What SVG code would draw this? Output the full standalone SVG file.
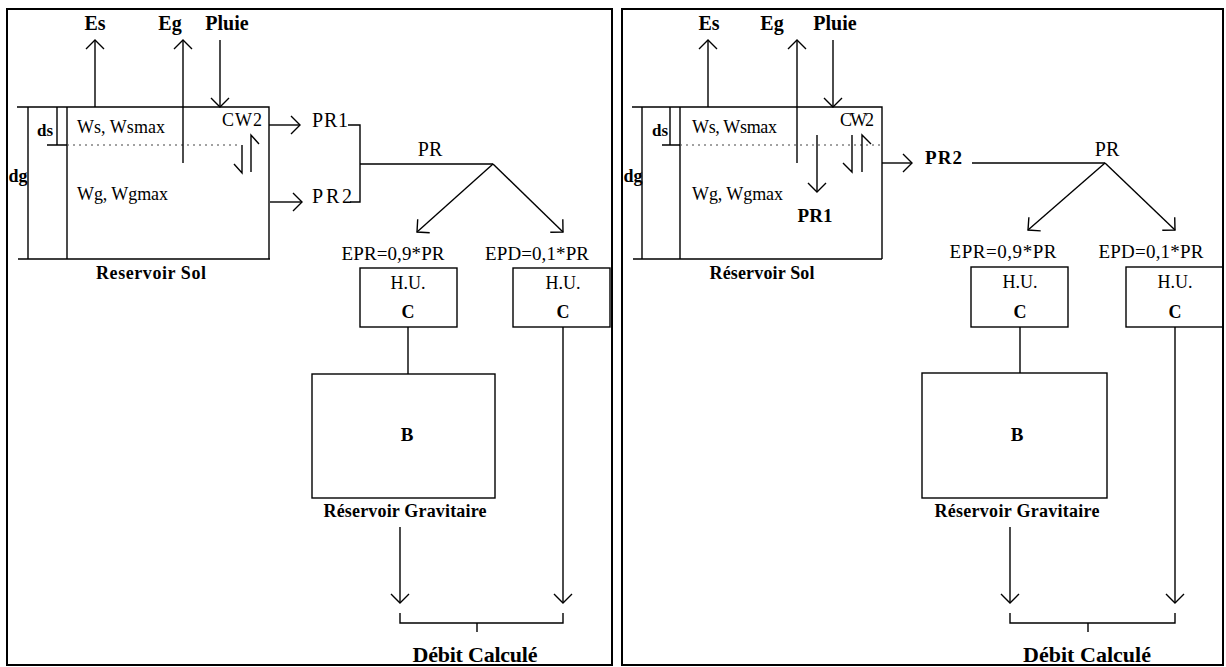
<svg xmlns="http://www.w3.org/2000/svg" width="1226" height="667" viewBox="0 0 1226 667">
<style>
text{font-family:"Liberation Serif","Times New Roman",serif;fill:#000}
.b{font-weight:bold}
.ln{stroke:#000;stroke-width:1.4;fill:none}
.fr{stroke:#000;stroke-width:2;fill:none}
.dot{stroke:#444;stroke-width:1;stroke-dasharray:2 4;fill:none}
.ar{marker-end:url(#ah)}
</style>
<defs>
<marker id="ah" markerWidth="20" markerHeight="20" refX="10" refY="10" orient="auto" markerUnits="userSpaceOnUse" viewBox="0 0 20 20">
<path d="M1,1 L10,10 L1,19" fill="none" stroke="#000" stroke-width="1.4"/>
</marker>
</defs>
<rect width="1226" height="667" fill="#fff"/>
<g id="frames">
<rect class="fr" x="7" y="9" width="605" height="656"/>
<rect class="fr" x="622" y="9" width="601" height="656"/>
</g>

<!-- LEFT PANEL -->
<g id="L-sol">
<path class="ln" d="M17,107 H269 V259 M18,259 H270 M28,107 V259 M67,107 V259 M57,107 V145 M47,145 H67"/>
<path class="dot" d="M67,145 H240"/>
<text class="b" x="45" y="136" font-size="17" text-anchor="middle">ds</text>
<text class="b" x="18" y="182" font-size="18" text-anchor="middle">dg</text>
<text x="77" y="133" font-size="18" textLength="88">Ws, Wsmax</text>
<text x="222" y="126" font-size="18" textLength="40">CW2</text>
<text x="77" y="200" font-size="18" textLength="91">Wg, Wgmax</text>
<text class="b" x="151" y="279" font-size="18" text-anchor="middle" textLength="110">Reservoir Sol</text>
</g>
<g id="L-inputs">
<text class="b" x="95" y="30" font-size="20" text-anchor="middle">Es</text>
<text class="b" x="170" y="30" font-size="20" text-anchor="middle">Eg</text>
<text class="b" x="227" y="30" font-size="20" text-anchor="middle">Pluie</text>
</g>
<g id="L-outputs">
<text x="312" y="127" font-size="20" textLength="36">PR1</text>
<text x="312" y="203" font-size="20" textLength="40">PR2</text>
<text x="430" y="156" font-size="20" text-anchor="middle">PR</text>
<text x="393" y="260" font-size="19" text-anchor="middle" textLength="103">EPR=0,9*PR</text>
<text x="537" y="260" font-size="19" text-anchor="middle" textLength="104">EPD=0,1*PR</text>
</g>
<g id="L-hu1">
<rect class="ln" x="360" y="268" width="97" height="59"/>
<text x="408" y="289" font-size="18" text-anchor="middle">H.U.</text>
<text class="b" x="408" y="318" font-size="18" text-anchor="middle">C</text>
</g>
<g id="L-hu2">
<rect class="ln" x="513" y="268" width="97" height="59"/>
<text x="563" y="289" font-size="18" text-anchor="middle">H.U.</text>
<text class="b" x="563" y="318" font-size="18" text-anchor="middle">C</text>
</g>
<g id="L-grav">
<rect class="ln" x="312" y="374" width="183" height="124"/>
<text class="b" x="407" y="441" font-size="19" text-anchor="middle">B</text>
<text class="b" x="405" y="517" font-size="18" text-anchor="middle" textLength="163">Réservoir Gravitaire</text>
</g>
<g id="L-debit">
<text class="b" x="475" y="662" font-size="22" text-anchor="middle" textLength="125">Débit Calculé</text>
</g>

<!-- RIGHT PANEL -->
<g id="R-sol">
<path class="ln" d="M632,107 H882 V259 M633,259 H882 M642,107 V259 M680,107 V259 M670,107 V145 M662,145 H680"/>
<path class="dot" d="M680,145 H883"/>
<text class="b" x="660" y="136" font-size="17" text-anchor="middle">ds</text>
<text class="b" x="633" y="182" font-size="18" text-anchor="middle">dg</text>
<text x="692" y="133" font-size="18" textLength="85">Ws, Wsmax</text>
<text x="840" y="126" font-size="18" textLength="34">CW2</text>
<text x="692" y="200" font-size="18" textLength="91">Wg, Wgmax</text>
<text class="b" x="815" y="222" font-size="19" text-anchor="middle" textLength="35">PR1</text>
<text class="b" x="762" y="279" font-size="18" text-anchor="middle" textLength="105">Réservoir Sol</text>
</g>
<g id="R-inputs">
<text class="b" x="709" y="30" font-size="20" text-anchor="middle">Es</text>
<text class="b" x="772" y="30" font-size="20" text-anchor="middle">Eg</text>
<text class="b" x="835" y="30" font-size="20" text-anchor="middle">Pluie</text>
</g>
<g id="R-outputs">
<text class="b" x="925" y="164" font-size="19" textLength="37">PR2</text>
<text x="1107" y="156" font-size="20" text-anchor="middle">PR</text>
<text x="1003" y="258" font-size="19" text-anchor="middle" textLength="107">EPR=0,9*PR</text>
<text x="1151" y="258" font-size="19" text-anchor="middle" textLength="105">EPD=0,1*PR</text>
</g>
<g id="R-hu1">
<rect class="ln" x="971" y="267" width="97" height="60"/>
<text x="1020" y="288" font-size="18" text-anchor="middle">H.U.</text>
<text class="b" x="1020" y="318" font-size="18" text-anchor="middle">C</text>
</g>
<g id="R-hu2">
<rect class="ln" x="1126" y="267" width="97" height="60"/>
<text x="1175" y="288" font-size="18" text-anchor="middle">H.U.</text>
<text class="b" x="1175" y="318" font-size="18" text-anchor="middle">C</text>
</g>
<g id="R-grav">
<rect class="ln" x="922" y="373" width="185" height="125"/>
<text class="b" x="1017" y="441" font-size="19" text-anchor="middle">B</text>
<text class="b" x="1017" y="517" font-size="18" text-anchor="middle" textLength="165">Réservoir Gravitaire</text>
</g>
<g id="R-debit">
<text class="b" x="1087" y="662" font-size="22" text-anchor="middle" textLength="128">Débit Calculé</text>
</g>

<g id="connectors">
<!-- left -->
<path class="ln ar" d="M95,107 V40"/>
<path class="ln ar" d="M183,163 V40"/>
<path class="ln ar" d="M220,40 V107"/>
<path class="ln ar" d="M269,125 H300"/>
<path class="ln ar" d="M270,202 H302"/>
<path class="ln" d="M242,145 V173 L234,164 M251,172 V135 L259,144"/>
<path class="ln" d="M348,125 H360 V202 H350 M360,164 H493"/>
<path class="ln ar" d="M493,164 L417,232"/>
<path class="ln ar" d="M493,164 L563,232"/>
<path class="ln" d="M408,327 V374"/>
<path class="ln ar" d="M563,327 V603"/>
<path class="ln ar" d="M400,527 V603"/>
<path class="ln" d="M400,613 V623 H563 V613 M477,623 V632"/>
<!-- right -->
<path class="ln ar" d="M708,107 V40"/>
<path class="ln ar" d="M797,163 V40"/>
<path class="ln ar" d="M833,40 V107"/>
<path class="ln ar" d="M817,135 V192"/>
<path class="ln" d="M852,135 V172 L843,163 M862,172 V135 L871,144"/>
<path class="ln ar" d="M882,163 H912"/>
<path class="ln" d="M972,163 H1105"/>
<path class="ln ar" d="M1105,163 L1028,230"/>
<path class="ln ar" d="M1105,163 L1175,230"/>
<path class="ln" d="M1020,327 V373"/>
<path class="ln ar" d="M1175,327 V603"/>
<path class="ln ar" d="M1010,527 V603"/>
<path class="ln" d="M1010,613 V623 H1175 V613 M1088,623 V632"/>
</g>
</svg>
